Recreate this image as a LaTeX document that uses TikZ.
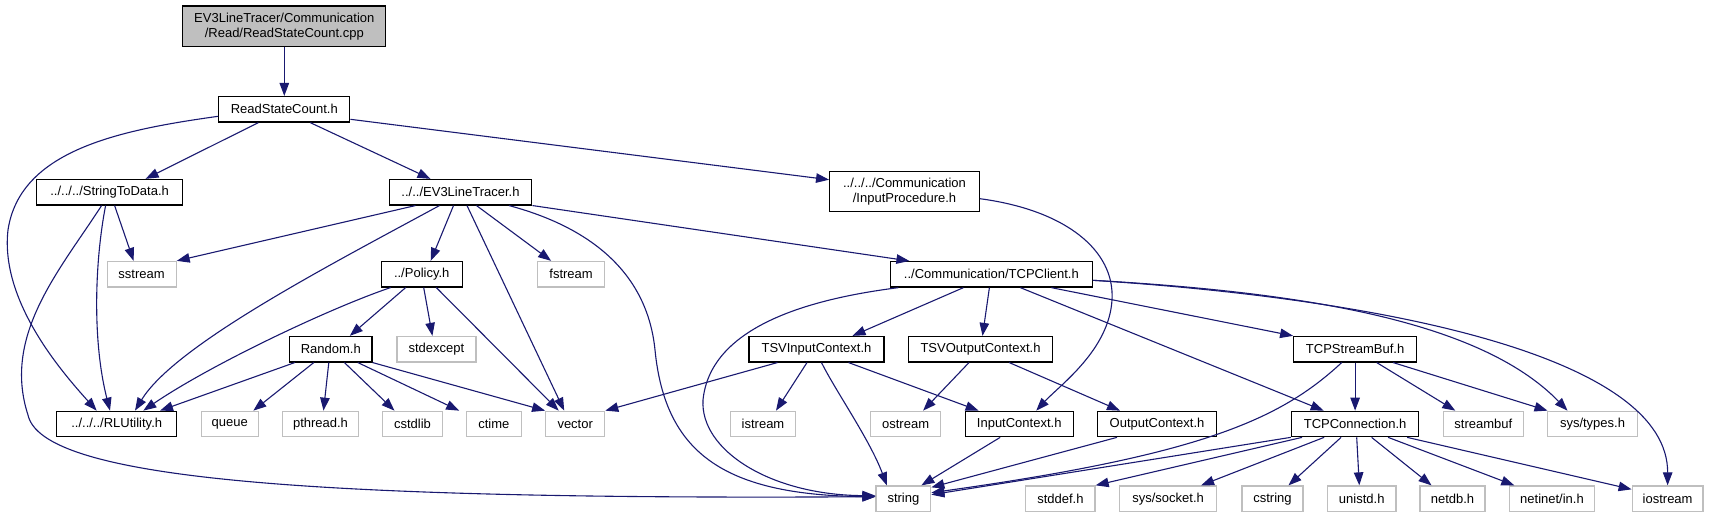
\documentclass[tikz,border=0pt]{standalone}
\usepackage{fontspec}
\setmainfont{Liberation Sans}
\usetikzlibrary{arrows.meta}
\definecolor{edgeblue}{HTML}{191970}
\definecolor{sysgray}{HTML}{BFBFBF}

\begin{document}
\begin{tikzpicture}[x=1pt, y=-1pt,
	every node/.style={font=\fontsize{13}{15}\selectfont, inner sep=0pt, minimum height=25.5pt, align=center},
	hdr/.style={draw=black, line width=1.2pt, fill=white},
	sysh/.style={draw=sysgray, line width=1.2pt, fill=white},
	root/.style={draw=black, line width=1.2pt, fill=sysgray, minimum height=40.5pt},
	dep/.style={->, draw=edgeblue, line width=1.1pt},
	>={Triangle[length=13pt, width=9.5pt]}]
	\useasboundingbox (0,0) rectangle (1710,517);
	\node[root, minimum width=203pt] (cpp) at (284.3,26.3) {EV3LineTracer/Communication\\/Read/ReadStateCount.cpp};
	\node[hdr, minimum width=131pt] (rsc) at (284.3,109.3) {ReadStateCount.h};
	\node[hdr, minimum width=146.5pt] (s2d) at (109.6,192.2) {../../../StringToData.h};
	\node[hdr, minimum width=142.7pt] (ev3) at (460.5,192.2) {../../EV3LineTracer.h};
	\node[hdr, minimum width=149.7pt, minimum height=40pt] (inproc) at (904.5,191.7) {../../../Communication\\/InputProcedure.h};
	\node[sysh, minimum width=69pt] (sstr) at (141.6,274.2) {sstream};
	\node[hdr, minimum width=81pt] (pol) at (421.7,274.2) {../Policy.h};
	\node[sysh, minimum width=67pt] (fstr) at (571.1,274.2) {fstream};
	\node[hdr, minimum width=201.6pt] (tcpcl) at (991.4,274.3) {../Communication/TCPClient.h};
	\node[hdr, minimum width=82.3pt] (rnd) at (330.8,349.2) {Random.h};
	\node[sysh, minimum width=79pt] (stdex) at (436.4,349.2) {stdexcept};
	\node[hdr, minimum width=135pt] (tsvin) at (816.5,349.2) {TSVInputContext.h};
	\node[hdr, minimum width=143.8pt] (tsvout) at (980.5,349.2) {TSVOutputContext.h};
	\node[hdr, minimum width=122.8pt] (tsbuf) at (1355.1,349.2) {TCPStreamBuf.h};
	\node[hdr, minimum width=120pt] (rlu) at (116.7,424) {../../../RLUtility.h};
	\node[sysh, minimum width=57pt] (que) at (229.8,424) {queue};
	\node[sysh, minimum width=76pt] (pthr) at (320.5,424) {pthread.h};
	\node[sysh, minimum width=60.5pt] (cstdl) at (412.5,424) {cstdlib};
	\node[sysh, minimum width=54.7pt] (ctim) at (493.8,424) {ctime};
	\node[sysh, minimum width=59pt] (vec) at (575.2,424) {vector};
	\node[sysh, minimum width=65.5pt] (istr) at (763,424) {istream};
	\node[sysh, minimum width=70pt] (ostr) at (905.6,424) {ostream};
	\node[hdr, minimum width=108pt] (inctx) at (1019.2,424) {InputContext.h};
	\node[hdr, minimum width=119.5pt] (outctx) at (1157,424) {OutputContext.h};
	\node[hdr, minimum width=127.4pt] (tcpcon) at (1355.1,424) {TCPConnection.h};
	\node[sysh, minimum width=80pt] (sbuf) at (1483.3,424) {streambuf};
	\node[sysh, minimum width=90pt] (systy) at (1592.5,424) {sys/types.h};
	\node[sysh, minimum width=54.7pt] (strg) at (903.4,498.7) {string};
	\node[sysh, minimum width=69.3pt] (stddf) at (1060.4,498.7) {stddef.h};
	\node[sysh, minimum width=97.2pt] (syssock) at (1168.1,498.7) {sys/socket.h};
	\node[sysh, minimum width=61pt] (cstrg) at (1272.5,498.7) {cstring};
	\node[sysh, minimum width=68.7pt] (unistd) at (1361.7,498.7) {unistd.h};
	\node[sysh, minimum width=65pt] (netdb) at (1452.5,498.7) {netdb.h};
	\node[sysh, minimum width=85.5pt] (netin) at (1552,498.7) {netinet/in.h};
	\node[sysh, minimum width=70.8pt] (iostr) at (1667.6,498.7) {iostream};

	\draw[dep] (cpp) -- (rsc);
	\draw[dep] ([yshift=-7pt]rsc.west) .. controls (120,130) and (20,150) .. (8,230) .. controls (0,300) and (60,370) .. ([xshift=-20pt]rlu.north);
	\draw[dep] ([xshift=-26pt]rsc.south) -- ([xshift=36pt]s2d.north);
	\draw[dep] ([xshift=26pt]rsc.south) -- ([xshift=-30pt]ev3.north);
	\draw[dep] ([yshift=-10pt]rsc.east) -- ([yshift=12pt]inproc.west);
	\draw[dep] ([xshift=5pt]s2d.south) -- ([xshift=-8pt]sstr.north);
	\draw[dep] ([xshift=-4pt]s2d.south) .. controls (95,260) and (92,340) .. ([xshift=-6.7pt]rlu.north);
	\draw[dep] ([xshift=-8pt]s2d.south) .. controls (60,270) and (2,335) .. (28,415) .. controls (42,478) and (300,500) .. ([yshift=2pt]strg.west);
	\draw[dep] ([xshift=-45pt]ev3.south) -- (sstr.north east);
	\draw[dep] ([xshift=-21pt]ev3.south) .. controls (330,265) and (175,345) .. ([xshift=18.3pt]rlu.north);
	\draw[dep] ([xshift=-7pt]ev3.south) -- ([xshift=9pt]pol.north);
	\draw[dep] ([xshift=6.5pt]ev3.south) -- ([xshift=-11pt]vec.north);
	\draw[dep] ([xshift=16pt]ev3.south) -- ([xshift=-20pt]fstr.north);
	\draw[dep] ([xshift=48.5pt]ev3.south) .. controls (600,230) and (648,280) .. (655,350) .. controls (665,450) and (720,495) .. ([yshift=2pt]strg.west);
	\draw[dep] (ev3.south east) -- ([xshift=-82pt]tcpcl.north);
	\draw[dep] ([yshift=-7pt]inproc.east) .. controls (1065,210) and (1115,250) .. (1112,300) .. controls (1109,350) and (1060,385) .. ([xshift=17pt]inctx.north);
	\draw[dep] ([xshift=-31pt]pol.south) .. controls (330,308) and (210,365) .. ([xshift=26.6pt]rlu.north);
	\draw[dep] ([xshift=-16pt]pol.south) -- ([xshift=19pt]rnd.north);
	\draw[dep] ([xshift=2pt]pol.south) -- ([xshift=-4pt]stdex.north);
	\draw[dep] ([xshift=14.6pt]pol.south) -- ([xshift=-16.5pt]vec.north);
	\draw[dep] ([xshift=-36pt]rnd.south) -- ([xshift=43.3pt]rlu.north);
	\draw[dep] ([xshift=-17pt]rnd.south) -- ([xshift=23.5pt]que.north);
	\draw[dep] ([xshift=-2pt]rnd.south) -- ([xshift=3pt]pthr.north);
	\draw[dep] ([xshift=13.6pt]rnd.south) -- ([xshift=-18pt]cstdl.north);
	\draw[dep] ([xshift=27pt]rnd.south) -- ([xshift=-34.6pt]ctim.north);
	\draw[dep] (rnd.south east) -- (vec.north west);
	\draw[dep] ([xshift=-93pt]tcpcl.south) .. controls (800,300) and (710,330) .. (703,400) .. controls (700,450) and (770,495) .. ([yshift=3pt]strg.west);
	\draw[dep] ([xshift=-28pt]tcpcl.south) -- ([xshift=36pt]tsvin.north);
	\draw[dep] ([xshift=-2pt]tcpcl.south) -- ([xshift=2pt]tsvout.north);
	\draw[dep] ([xshift=29pt]tcpcl.south) -- ([xshift=-31.4pt]tcpcon.north);
	\draw[dep] ([xshift=60pt]tcpcl.south) -- (tsbuf.north west);
	\draw[dep] ([yshift=-6pt]tcpcl.east) .. controls (1300,292) and (1480,320) .. ([xshift=-25pt]systy.north);
	\draw[dep] ([yshift=-6pt]tcpcl.east) .. controls (1400,300) and (1668,360) .. (iostr.north);
	\draw[dep] ([xshift=-39pt]tsvin.south) -- (vec.north east);
	\draw[dep] ([xshift=-9.5pt]tsvin.south) -- ([xshift=13pt]istr.north);
	\draw[dep] ([xshift=5pt]tsvin.south) .. controls (835,390) and (870,440) .. ([xshift=-16.6pt]strg.north);
	\draw[dep] ([xshift=32pt]tsvin.south) -- ([xshift=-40.6pt]inctx.north);
	\draw[dep] ([xshift=-11.5pt]tsvout.south) -- ([xshift=17.5pt]ostr.north);
	\draw[dep] ([xshift=28.7pt]tsvout.south) -- ([xshift=-37pt]outctx.north);
	\draw[dep] ([xshift=-19pt]inctx.south) -- ([xshift=18pt]strg.north);
	\draw[dep] ([xshift=-40pt]outctx.south) -- ([yshift=-2pt]strg.north east);
	\draw[dep] ([xshift=-13.4pt]tsbuf.south) .. controls (1280,420) and (1200,455) .. ([yshift=6pt]strg.east);
	\draw[dep] (tsbuf) -- (tcpcon);
	\draw[dep] ([xshift=21.6pt]tsbuf.south) -- ([xshift=-28pt]sbuf.north);
	\draw[dep] ([xshift=38pt]tsbuf.south) -- ([xshift=-45pt]systy.north);
	\draw[dep] (tcpcon.south west) -- ([yshift=4pt]strg.east);
	\draw[dep] ([xshift=-53pt]tcpcon.south) -- (stddf.north east);
	\draw[dep] ([xshift=-31pt]tcpcon.south) -- ([xshift=33pt]syssock.north);
	\draw[dep] ([xshift=-14pt]tcpcon.south) -- ([xshift=16pt]cstrg.north);
	\draw[dep] ([xshift=1.6pt]tcpcon.south) -- ([xshift=-2.4pt]unistd.north);
	\draw[dep] ([xshift=16.5pt]tcpcon.south) -- ([xshift=-21pt]netdb.north);
	\draw[dep] ([xshift=33pt]tcpcon.south) -- ([xshift=-37.7pt]netin.north);
	\draw[dep] ([xshift=52pt]tcpcon.south) -- ([yshift=-4pt]iostr.north west);
\end{tikzpicture}
\end{document}
